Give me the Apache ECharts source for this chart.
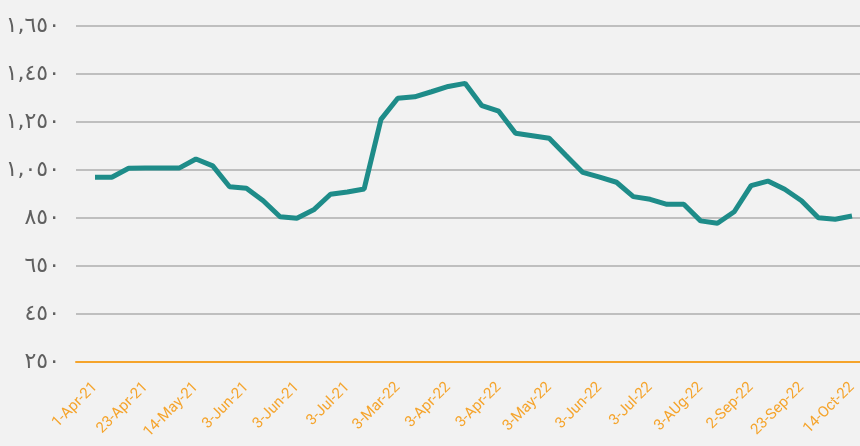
<!DOCTYPE html>
<html>
<head>
<meta charset="utf-8">
<script src="https://cdn.jsdelivr.net/npm/echarts@6/dist/echarts.min.js"></script>
<style>
html,body{margin:0;padding:0;background:#f2f2f2;}
#c{width:860px;height:446px;}
</style>
</head>
<body>
<div id="c"></div>
<script>
// Labeled dates (every 3rd category)
const dateLabels = ['1-Apr-21','23-Apr-21','14-May-21','3-Jun-21','3-Jun-21','3-Jul-21','3-Mar-22','3-Apr-22','3-Apr-22','3-May-22','3-Jun-22','3-Jul-22','3-AUg-22','2-Sep-22','23-Sep-22','14-Oct-22'];
// Series values (46 points)
const values = [1020,1020,1057,1058,1058,1058,1096,1067,980,974,922,855,849,884,949,958,971,1261,1349,1355,1376,1398,1411,1318,1295,1203,1193,1182,1110,1040,1020,999,939,928,907,907,838,828,876,985,1004,970,922,851,845,858];
// Y-axis ticks and their labels
const tickValues = [250,450,650,850,1050,1250,1450,1650];
const tickLabels = ['٢٥٠','٤٥٠','٦٥٠','٨٥٠','١,٠٥٠','١,٢٥٠','١,٤٥٠','١,٦٥٠'];

const categories = values.map((v,i) => (i % 3 === 0 ? dateLabels[i/3] : ''));

const chart = echarts.init(document.getElementById('c'), null, {renderer:'canvas'});
chart.setOption({
  backgroundColor:'#f2f2f2',
  animation:false,
  grid:[
    {left:76, right:0, top:26, bottom:84},
    {left:95, right:8, top:26, bottom:84}
  ],
  xAxis:[
    {gridIndex:0, type:'category', data:categories, boundaryGap:false,
     axisLine:{show:true, lineStyle:{color:'#f5a42c', width:2}},
     axisTick:{show:false}, axisLabel:{show:false}, splitLine:{show:false}},
    {gridIndex:1, type:'category', data:categories, boundaryGap:false,
     axisLine:{show:false}, axisTick:{show:false},
     axisLabel:{interval:2, rotate:45, margin:23, color:'#f5a42c', fontSize:15, fontFamily:'Roboto'}}
  ],
  yAxis:[
    {gridIndex:0, type:'value', min:tickValues[0], max:tickValues[tickValues.length-1], interval:200,
     axisLine:{show:false}, axisTick:{show:false},
     splitLine:{show:true, lineStyle:{color:'#bfbfbf', width:2}},
     axisLabel:{margin:16, color:'#606060', fontSize:22, fontFamily:'DejaVu Sans',
       formatter:(v)=>{const k=tickValues.indexOf(Math.round(v)); return k>=0?tickLabels[k]:'';}}},
    {gridIndex:1, type:'value', min:tickValues[0], max:tickValues[tickValues.length-1], interval:200,
     show:false, splitLine:{show:false}}
  ],
  series:[{
    type:'line', xAxisIndex:1, yAxisIndex:1, data:values,
    showSymbol:false, symbol:'none',
    lineStyle:{color:'#1e8c89', width:5},
    itemStyle:{color:'#1e8c89'}
  }]
});
</script>
</body>
</html>
